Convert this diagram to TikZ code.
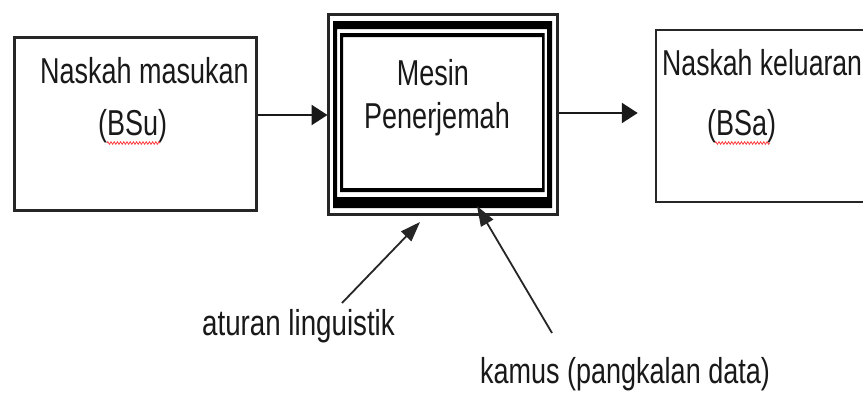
\documentclass[tikz,border=0pt]{standalone}
\usepackage{fontspec}
\setmainfont{Liberation Sans}
\usetikzlibrary{arrows.meta,decorations.pathmorphing,calc}
\newcommand\narrowtext[2][0.75]{\scalebox{#1}[1]{#2}}
\begin{document}
\begin{tikzpicture}[x=1pt,y=-1pt,
  frame/.style={draw=black!85, line width=2.5pt, fill=white, inner sep=0pt},
  lbl/.style={inner sep=0pt, text=black!90, font=\fontsize{36}{40}\selectfont},
  arr/.style={draw=black!90, line width=2.4pt, -{Triangle[length=16pt,width=20pt]}},
  thinarr/.style={draw=black!85, line width=1.8pt, -{Triangle[length=20pt,width=14pt]}},
  squiggle/.style={draw=red!75, line width=0.8pt, decorate,
    decoration={zigzag, segment length=3.2pt, amplitude=1.3pt}}]
\useasboundingbox (0,0) rectangle (863,394);
\clip (0,0) rectangle (863,394);
\fill[white] (0,0) rectangle (863,394);

% source text box
\node[frame, minimum width=242pt, minimum height=173pt] (lbox) at (135.5,124) {};
% target text box, running past the right edge
\node[frame, minimum width=224pt, minimum height=172pt] (rbox) at (768,116) {};

% translation engine with its layered border
\node[frame, line width=3pt, minimum width=229pt, minimum height=200pt] (mesin) at (442.5,114) {};
\fill[black, even odd rule] (333,21) rectangle (552,208) (337,29) rectangle (547,197);
\fill[black, even odd rule] (340,33) rectangle (544.5,192) (343,37) rectangle (542,188);

% labels
\node[lbl, anchor=base west] (t1) at (40,83) {\narrowtext{Naskah masukan}};
\node[lbl, anchor=base west] (t2) at (98,135) {\narrowtext{(BSu)}};
\node[lbl, anchor=base] (t3) at (433,85) {\narrowtext{Mesin}};
\node[lbl, anchor=base] (t4) at (437,128) {\narrowtext{Penerjemah}};
\node[lbl, anchor=base west] (t5) at (662,75) {\narrowtext[0.74]{Naskah keluaran}};
\node[lbl, anchor=base west] (t6) at (707,135) {\narrowtext{(BSa)}};
\node[lbl, anchor=base west] (t7) at (202,335) {\narrowtext[0.77]{aturan linguistik}};
\node[lbl, anchor=base west] (t8) at (480,383) {\narrowtext{kamus (pangkalan data)}};

% spell-check marks
\draw[squiggle] (t2.base west) ++(9,8) coordinate (sq1a) -- ++(53,0) coordinate (sq1b);
\draw[squiggle] (t6.base west) ++(8,8) coordinate (sq2a) -- ++(55,0) coordinate (sq2b);

% main flow
\coordinate (rowA) at (0,115);
\coordinate (rowB) at (0,113);
\draw[arr] (lbox.east |- rowA) -- ([xshift=1pt]mesin.west |- rowA);
\draw[arr, shorten >=17pt] (mesin.east |- rowB) -- (rbox.west |- rowB);

% inputs to the engine
\coordinate (ruleS) at (342,303);
\coordinate (ruleT) at (420,222);
\coordinate (dictS) at (552,333);
\coordinate (dictT) at (477,206);
\draw[thinarr] (ruleS) -- (ruleT);
\draw[thinarr] (dictS) -- (dictT);
\end{tikzpicture}
\end{document}
